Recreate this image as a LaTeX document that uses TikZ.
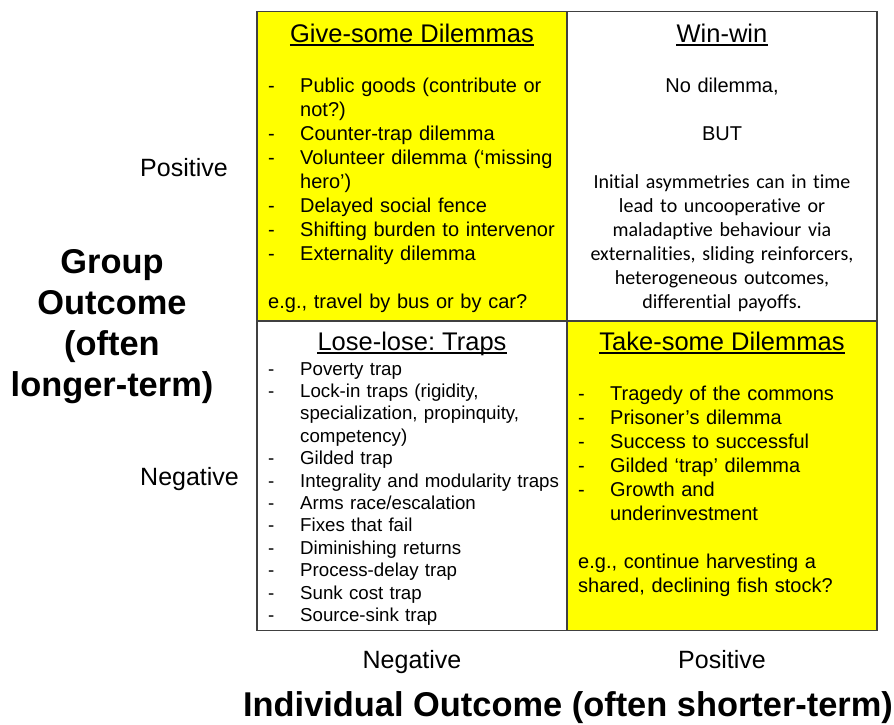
\documentclass[tikz,border=0pt]{standalone}
\usepackage{fontspec}
\setmainfont{Liberation Sans}[Ligatures=NoCommon]
\newfontfamily\calib{Carlito}[Ligatures=NoCommon]
\usetikzlibrary{positioning}
\definecolor{qyellow}{RGB}{255,255,0}
\frenchspacing
\newcommand{\qitem}[1]{\makebox[32pt][l]{-}#1}
\newcommand{\qcont}[1]{\hspace*{32pt}#1}

\begin{document}
\begin{tikzpicture}[x=1pt, y=-1pt,
    quad/.style = {rectangle, draw=black!75, line width=1.2pt, minimum width=310pt, minimum height=309.5pt, inner sep=0pt},
    qtitle/.style = {anchor=base, inner sep=0pt, font=\fontsize{25.5}{30}\selectfont},
    itemlist/.style = {anchor=base west, inner sep=0pt, align=left, text width=300pt, font=\fontsize{20}{24}\selectfont},
    smalllist/.style = {itemlist, font=\fontsize{18.7}{22.4}\selectfont},
    axislabel/.style = {inner sep=0pt, font=\fontsize{25}{30}\selectfont},
    axistitle/.style = {inner sep=0pt, align=center, font=\bfseries\fontsize{34.4}{41}\selectfont},
    uline/.style = {line width=1.3pt},
    ]
        \useasboundingbox (0,0) rectangle (894,724);

        % Quadrants
        \node[quad, fill=qyellow] (give) at (412,166) {};
        \node[quad, fill=white] (win) at (722,166) {};
        \node[quad, fill=white] (lose) at (412,475.75) {};
        \node[quad, fill=qyellow] (take) at (722,475.75) {};

        % Titles
        \node[qtitle] (givet) at (give.north |- 0,42) {Give-some Dilemmas};
        \node[qtitle] (wint) at (win.north |- 0,42) {Win-win};
        \node[qtitle] (loset) at (lose.north |- 0,350) {Lose-lose: Traps};
        \node[qtitle] (taket) at (take.north |- 0,350) {Take-some Dilemmas};

        % Contents
        \node[itemlist] (givel) at (268,92) {%
            \qitem{Public goods (contribute or}\\
            \qcont{not?)}\\
            \qitem{Counter-trap dilemma}\\
            \qitem{Volunteer dilemma (‘missing}\\
            \qcont{hero’)}\\
            \qitem{Delayed social fence}\\
            \qitem{Shifting burden to intervenor}\\
            \qitem{Externality dilemma}\\
            \mbox{}\\
            e.g., travel by bus or by car?};
        \node[itemlist, anchor=base, align=center, text width=305pt] (winl) at (722,92) {%
            No dilemma,\\
            \mbox{}\\
            BUT\\
            \mbox{}\\
            {\calib Initial asymmetries can in time}\\
            {\calib lead to uncooperative or}\\
            {\calib maladaptive behaviour via}\\
            {\calib externalities, sliding reinforcers,}\\
            {\calib heterogeneous outcomes,}\\
            {\calib differential payoffs.}};
        \node[smalllist] (losel) at (268,375) {%
            \qitem{Poverty trap}\\
            \qitem{Lock-in traps (rigidity,}\\
            \qcont{specialization, propinquity,}\\
            \qcont{competency)}\\
            \qitem{Gilded trap}\\
            \qitem{Integrality and modularity traps}\\
            \qitem{Arms race/escalation}\\
            \qitem{Fixes that fail}\\
            \qitem{Diminishing returns}\\
            \qitem{Process-delay trap}\\
            \qitem{Sunk cost trap}\\
            \qitem{Source-sink trap}};
        \node[itemlist] (takel) at (578,400) {%
            \qitem{Tragedy of the commons}\\
            \qitem{Prisoner’s dilemma}\\
            \qitem{Success to successful}\\
            \qitem{Gilded ‘trap’ dilemma}\\
            \qitem{Growth and}\\
            \qcont{underinvestment}\\
            \mbox{}\\
            e.g., continue harvesting a\\
            shared, declining fish stock?};

        % Axes
        \node[axislabel, anchor=base west] (gpos) at (140,176) {Positive};
        \node[axislabel, anchor=base west] (gneg) at (140,485) {Negative};
        \node[axislabel, anchor=base] (ineg) at (lose.south |- 0,668) {Negative};
        \node[axislabel, anchor=base] (ipos) at (take.south |- 0,668) {Positive};
        \node[axistitle, anchor=base] (group) at (112,396) {Group\\Outcome\\(often\\longer-term)};
        \node[axistitle, anchor=base] (indiv) at (568,716) {Individual Outcome (often shorter-term)};

        % Underlines
        \foreach \t in {givet, wint, loset, taket}
            \draw[uline] ([yshift=-3pt]\t.base west) -- ([yshift=-3pt]\t.base east);
    \end{tikzpicture}
\end{document}
